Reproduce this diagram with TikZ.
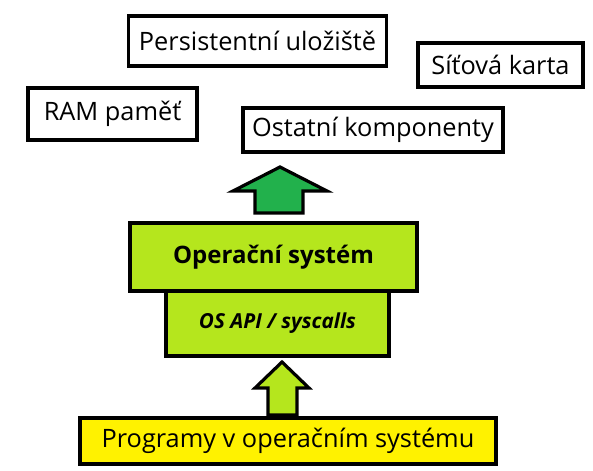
\documentclass[tikz,border=0pt]{standalone}
\usepackage{fontspec}
\setmainfont{Open Sans}
\usetikzlibrary{positioning}
\definecolor{osc}{HTML}{B5E61D}
\definecolor{prc}{HTML}{FFF200}
\definecolor{upc}{HTML}{22B14C}
\tikzset{
  hw/.style={draw=black, line width=2.6pt, fill=white, inner sep=0pt, font=\fontsize{19}{21}\selectfont},
  osbox/.style={hw, fill=osc},
  prbox/.style={hw, fill=prc},
  blk/.style={draw=black, line width=2.4pt, line join=miter},
}
\begin{document}
\begin{tikzpicture}[x=0.75pt, y=-0.75pt]
  \useasboundingbox (0,0) rectangle (593,471);
  % hardware
  \node[hw, minimum width=258*0.75pt, minimum height=50*0.75pt] (pers) at (257.5,41) {Persistentní uložiště};
  \node[hw, minimum width=169*0.75pt, minimum height=52*0.75pt] (ram) at (112.5,114) {RAM paměť};
  \node[hw, minimum width=165*0.75pt, minimum height=44*0.75pt] (sit) at (500.5,65) {Síťová karta};
  \node[hw, minimum width=260*0.75pt, minimum height=44*0.75pt] (ost) at (373,130) {Ostatní komponenty};
  % os
  \node[osbox, minimum width=223*0.75pt, minimum height=65*0.75pt, font=\fontsize{15.5}{17}\selectfont\bfseries\itshape] (api) at (277.5,323.5) {OS API / syscalls};
  \node[osbox, minimum width=287*0.75pt, minimum height=68*0.75pt, font=\fontsize{18}{20}\selectfont\bfseries] (os) at (273.5,257) {Operační systém};
  \node[prbox, minimum width=416*0.75pt, minimum height=46*0.75pt] (prog) at (288,441) {Programy v operačním systému};
  % arrows
  \draw[blk, fill=upc] (280,167) -- (327,191) -- (303,191) -- (303,213) -- (255,213) -- (255,191) -- (233,191) -- cycle;
  \draw[blk, fill=osc] (282,362) -- (309,388) -- (297,388) -- (297,415) -- (268,415) -- (268,388) -- (255,388) -- cycle;
\end{tikzpicture}
\end{document}
